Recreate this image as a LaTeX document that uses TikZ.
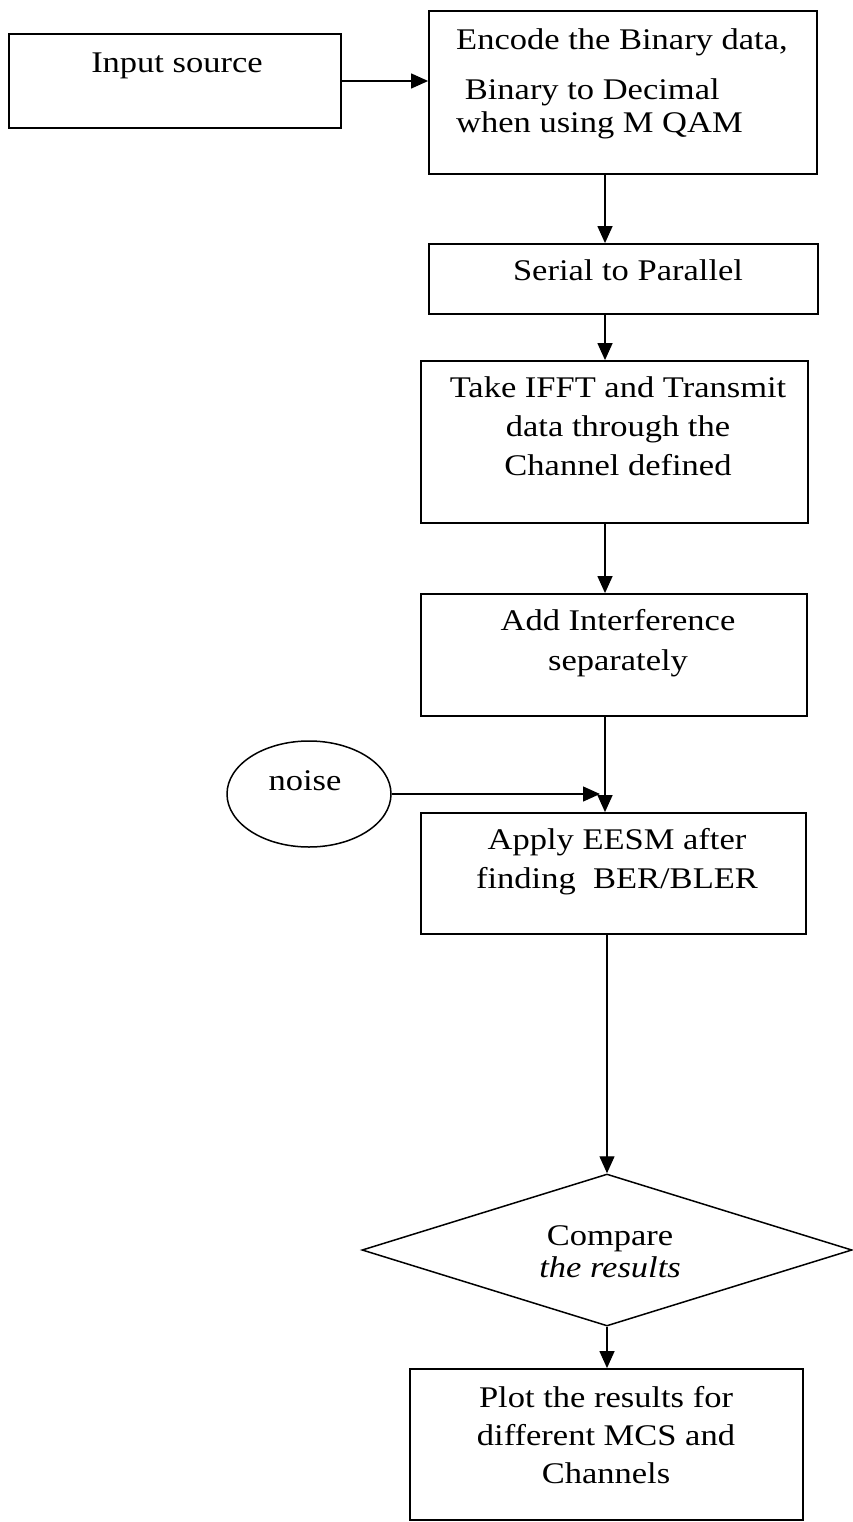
\documentclass[tikz,border=0pt]{standalone}
\usepackage{fontspec}
\setmainfont{Liberation Serif}[FakeStretch=1.15]
\usetikzlibrary{shapes.geometric,arrows.meta}
\begin{document}
\begin{tikzpicture}[x=1pt,y=-1pt,
  box/.style={draw, rectangle, line width=1.8pt, inner sep=0pt},
  oval/.style={draw, ellipse, line width=1.5pt, inner sep=0pt},
  decision/.style={draw, diamond, line width=1.5pt, inner sep=0pt},
  txt/.style={inner sep=0pt, align=center, anchor=north},
  arr/.style={line width=1.3pt, -{Triangle[length=17pt,width=15pt]}},
]
\useasboundingbox (0,0) rectangle (852,1522);
\fill[white] (0,0) rectangle (852,1522);

% shapes
\node[box, minimum width=332pt, minimum height=94pt] (inp) at (175,81) {};
\node[box, minimum width=388pt, minimum height=163pt] (enc) at (623,92.5) {};
\node[box, minimum width=389pt, minimum height=70pt] (ser) at (623.5,279) {};
\node[box, minimum width=387pt, minimum height=162pt] (ifft) at (614.5,442) {};
\node[box, minimum width=386pt, minimum height=122pt] (intf) at (614,655) {};
\node[oval, minimum width=164pt, minimum height=106pt] (noise) at (309,794) {};
\node[box, minimum width=385pt, minimum height=121pt] (eesm) at (613.5,873.5) {};
\node[decision, minimum width=490pt, minimum height=152pt] (dia) at (607,1250) {};
\node[box, minimum width=393pt, minimum height=151pt] (plot) at (606.5,1444.5) {};

% texts
\node[txt, font=\fontsize{30}{38}\selectfont] (inp-t) at (177,45.4) {\strut Input source};
\node[txt, align=left, anchor=north west, font=\fontsize{30}{38}\selectfont] (enc-t) at (456,22.4)
  {\strut Encode the Binary data,\\[12pt]\strut\ Binary to Decimal\\[-5pt]\strut when using M QAM};
\node[txt, font=\fontsize{30}{38}\selectfont] (ser-t) at (628,253.4) {\strut Serial to Parallel};
\node[txt, font=\fontsize{30}{39}\selectfont] (ifft-t) at (618,369.7)
  {\strut Take IFFT and Transmit\\\strut data through the\\\strut Channel defined};
\node[txt, font=\fontsize{30}{40}\selectfont] (intf-t) at (618,602)
  {\strut Add Interference\\\strut separately};
\node[txt, font=\fontsize{30}{38}\selectfont] (noise-t) at (305,763.4) {\strut noise};
\node[txt, font=\fontsize{30}{39}\selectfont] (eesm-t) at (617,821.7)
  {\strut Apply EESM after\\\strut finding~ BER/BLER};
\node[txt, font=\fontsize{30}{32}\selectfont] (dia-t) at (610,1222.6)
  {\strut Compare\\\strut\textit{the results}};
\node[txt, font=\fontsize{30}{38}\selectfont] (plot-t) at (606,1380.4)
  {\strut Plot the results for\\\strut different MCS and\\\strut Channels};

% connectors
\coordinate (ax) at (605,0);
\draw[arr] (inp.east) -- (inp.east -| enc.west);
\draw[arr] (enc.south -| ax) -- (ser.north -| ax);
\draw[arr] (ser.south -| ax) -- (ifft.north -| ax);
\draw[arr] (ifft.south -| ax) -- (intf.north -| ax);
\draw[arr] (intf.south -| ax) -- (eesm.north -| ax);
\coordinate (nz) at (600,794);
\draw[arr] (noise.east) -- (nz);
\draw[arr] (eesm.south -| dia.north) -- (dia.north);
\draw[arr] (dia.south) -- (plot.north -| dia.south);
\end{tikzpicture}
\end{document}
